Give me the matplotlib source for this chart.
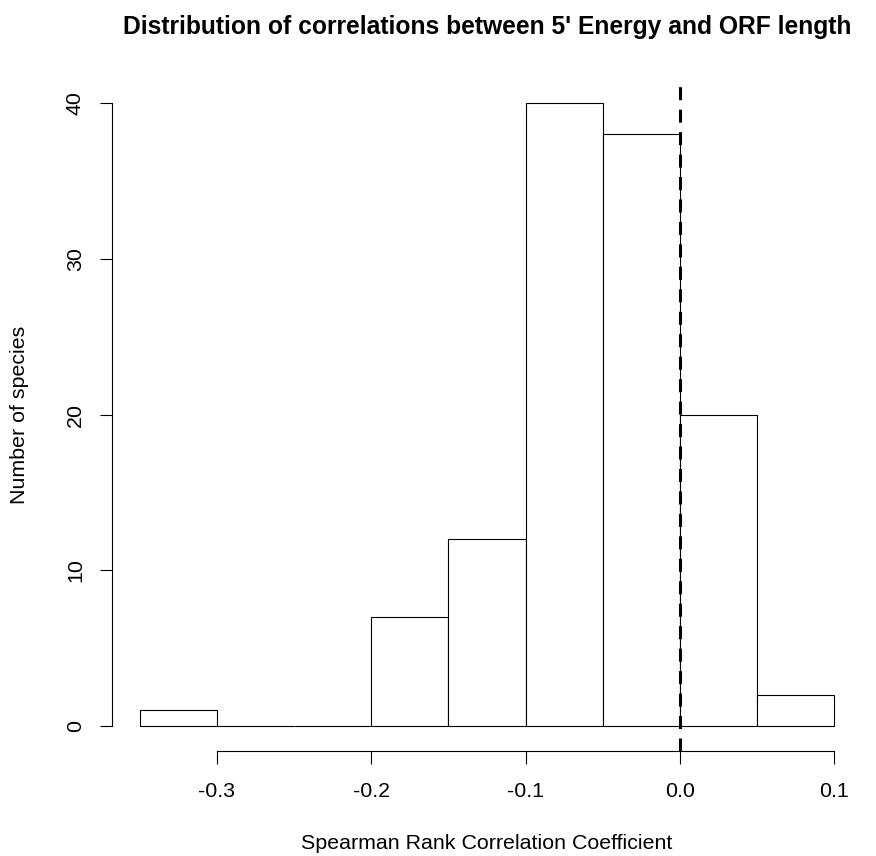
import numpy as np
import matplotlib.pyplot as plt

# histogram bins (left edges) and counts
bin_left = [-0.35, -0.30, -0.25, -0.20, -0.15, -0.10, -0.05, 0.00, 0.05]
counts = [1, 0, 0, 7, 12, 40, 38, 20, 2]
bin_width = 0.05

x_ticks = [-0.3, -0.2, -0.1, 0.0, 0.1]
x_ticklabels = ['-0.3', '-0.2', '-0.1', '0.0', '0.1']
y_ticks = [0, 10, 20, 30, 40]

title = "Distribution of correlations between 5' Energy and ORF length"
xlabel = 'Spearman Rank Correlation Coefficient'
ylabel = 'Number of species'

plt.rcParams['font.family'] = ['Liberation Sans', 'DejaVu Sans']

W, H = 876, 856
fig = plt.figure(figsize=(W / 100, H / 100), dpi=100)
fig.patch.set_facecolor('white')

# plot region in pixels (R-style 4% padding around the data range)
left, right, top, bottom = 112, 862, 78, 751
ax = fig.add_axes([left / W, 1 - bottom / H, (right - left) / W, (bottom - top) / H])

ax.bar(bin_left, counts, width=bin_width, align='edge',
       facecolor='white', edgecolor='black', linewidth=0.8)
ax.axvline(0, color='black', linewidth=2.2, dashes=(4.25, 3.1))

ax.set_xlim(-0.368, 0.118)
ax.set_ylim(-1.6, 41.6)

for s in ['top', 'right']:
    ax.spines[s].set_visible(False)
ax.spines['left'].set_bounds(0, 40)
ax.spines['bottom'].set_bounds(-0.3, 0.1)
ax.spines['left'].set_linewidth(0.8)
ax.spines['bottom'].set_linewidth(0.8)

ax.set_xticks(x_ticks)
ax.set_xticklabels(x_ticklabels)
ax.set_yticks(y_ticks)
ax.tick_params(axis='both', direction='out', length=9, width=0.8, labelsize=15.4)
ax.tick_params(axis='x', pad=13.5)
ax.tick_params(axis='y', pad=10.5)
plt.setp(ax.get_yticklabels(), rotation=90, va='center')

cx = (left + right) / 2 / W
fig.text(cx, 1 - 34 / H, title, ha='center', va='baseline',
         fontsize=17.7, fontweight='bold')
fig.text(cx, 1 - 849 / H, xlabel, ha='center', va='baseline', fontsize=15.4)
fig.text(25 / W, 1 - (top + bottom) / 2 / H, ylabel, rotation=90,
         rotation_mode='anchor', ha='center', va='baseline', fontsize=15.4)

fig.savefig('out.png', dpi=100)
